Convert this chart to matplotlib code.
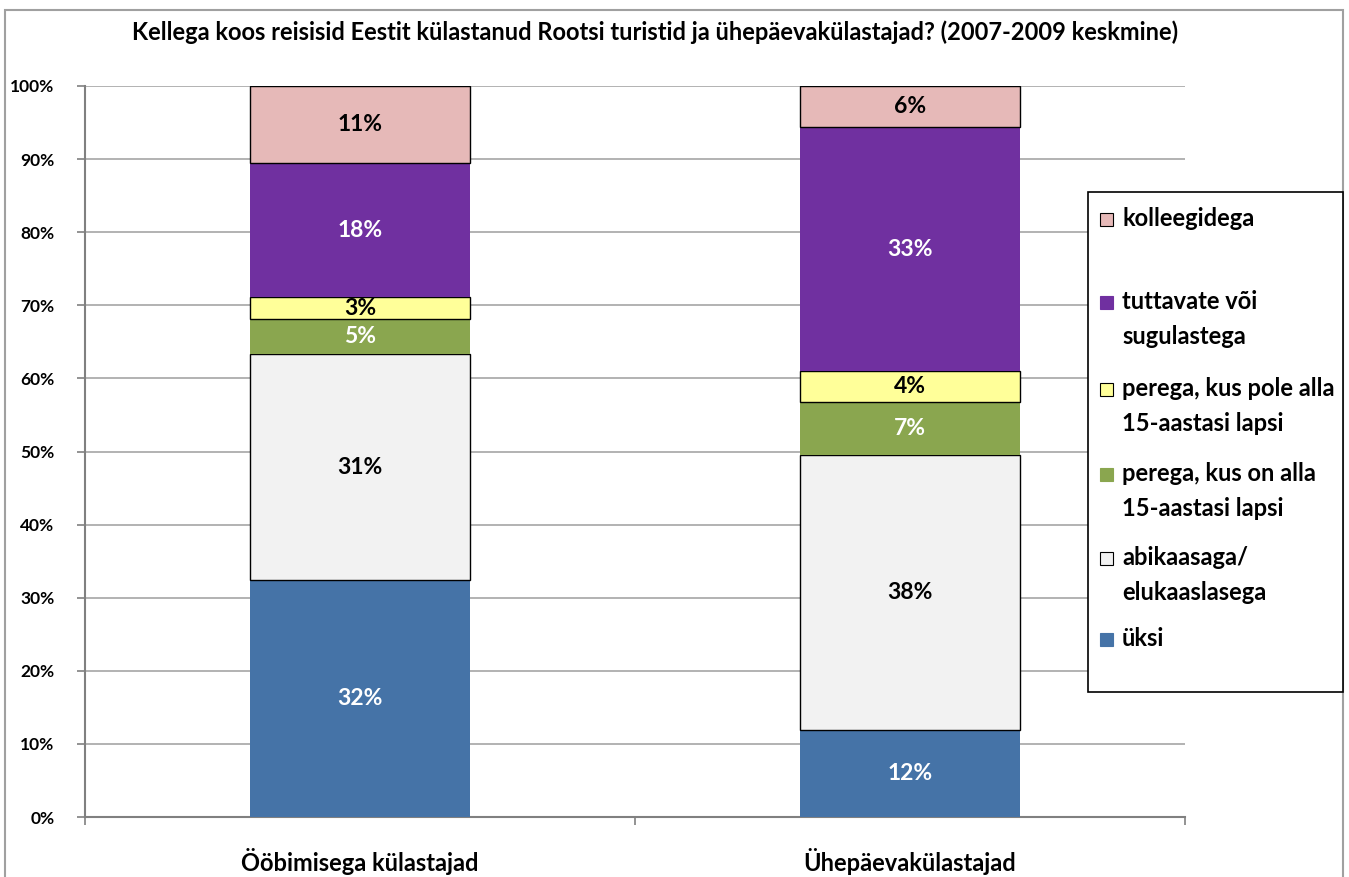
import matplotlib
matplotlib.use("Agg")
import matplotlib.pyplot as plt
from matplotlib.patches import Rectangle
import numpy as np

plt.rcParams['font.family'] = ['Lato', 'DejaVu Sans']
plt.rcParams['font.weight'] = 'bold'

title = "Kellega koos reisisid Eestit külastanud Rootsi turistid ja ühepäevakülastajad? (2007-2009 keskmine)"
categories = ["Ööbimisega külastajad", "Ühepäevakülastajad"]
series_names = ["üksi", "abikaasaga/\nelukaaslasega", "perega, kus on alla\n15-aastasi lapsi",
                "perega, kus pole alla\n15-aastasi lapsi", "tuttavate või\nsugulastega", "kolleegidega"]
uksi = [32.4, 11.9]
abikaasaga = [30.9, 37.6]
perega_on = [4.8, 7.3]
perega_pole = [3.0, 4.2]
tuttavate = [18.3, 33.4]
kolleegidega = [10.6, 5.6]
yticks = [0, 10, 20, 30, 40, 50, 60, 70, 80, 90, 100]

series = [uksi, abikaasaga, perega_on, perega_pole, tuttavate, kolleegidega]
colors = ["#4573A7", "#F2F2F2", "#8AA64F", "#FFFF99", "#7030A0", "#E6B9B8"]
edges = [None, "black", None, "black", None, "black"]
label_colors = ["white", "black", "white", "black", "white", "black"]

W, H = 1349, 877
fig = plt.figure(figsize=(W/100, H/100), dpi=100)
ax = fig.add_axes([85/W, (H-817)/H, 1100/W, 731/H])

x = np.arange(len(categories))
bottom = np.zeros(len(categories))
for vals, c, e, lc in zip(series, colors, edges, label_colors):
    vals = np.array(vals)
    ax.bar(x, vals, bottom=bottom, width=0.4, color=c,
           edgecolor=e if e else c, linewidth=1.0 if e else 0, zorder=3)
    for xi, b, v in zip(x, bottom, vals):
        ax.text(xi, b + v/2, f"{round(v):d}%", ha='center', va='center',
                color=lc, fontsize=16.5, fontweight='bold', zorder=4)
    bottom += vals

ax.set_xlim(-0.5, 1.5)
ax.set_ylim(0, 100)
ax.set_yticks(yticks)
ax.set_yticklabels([f"{t}%" for t in yticks], fontsize=12.5, fontweight='bold')
ax.yaxis.grid(True, color="#A6A6A6", linewidth=1.2, zorder=0)
ax.set_axisbelow(True)
ax.set_xticks(x)
ax.set_xticklabels(categories, fontsize=17, fontweight='bold')
ax.tick_params(axis='x', length=0, pad=22)
ax.set_xticks([-0.5, 0.5, 1.5], minor=True)
ax.tick_params(axis='x', which='minor', length=6, color="#808080", width=1.2)
ax.tick_params(axis='y', length=6, color="#808080", width=1.2, pad=16)
for s in ['top', 'right']:
    ax.spines[s].set_visible(False)
for s in ['left', 'bottom']:
    ax.spines[s].set_color("#808080")
    ax.spines[s].set_linewidth(1.5)

fig.text(655/W, 1 - 32/H, title, ha='center', va='center', fontsize=17, fontweight='bold')

# outer chart border
fig.patches.append(Rectangle((5/W, -0.05), (1343-5)/W, 1.05 - 10/H, transform=fig.transFigure,
                             fill=False, edgecolor="#A0A0A0", linewidth=1.5))

# legend (manual)
lx0, ly0, lx1, ly1 = 1088, 192, 1343, 692
fig.patches.append(Rectangle((lx0/W, 1 - ly1/H), (lx1-lx0)/W, (ly1-ly0)/H, transform=fig.transFigure,
                             fill=True, facecolor='white', edgecolor='black', linewidth=1.2, zorder=5))
legend_y = [217, 300, 387, 472, 556, 637]
order = [5, 4, 3, 2, 1, 0]
for yy, i in zip(legend_y, order):
    fig.patches.append(Rectangle((1100/W, 1 - (yy+9)/H), 13/W, 13/H, transform=fig.transFigure,
                                 facecolor=colors[i], edgecolor='black' if edges[i] else colors[i],
                                 linewidth=0.8, zorder=6))
    fig.text(1122/W, 1 - (yy - 10)/H, series_names[i], ha='left', va='top', fontsize=17,
             fontweight='bold', linespacing=1.65, zorder=6)

fig.savefig("out.png", dpi=100)
